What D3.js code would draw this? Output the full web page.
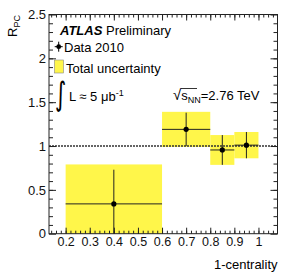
<!DOCTYPE html>
<html>
<head>
<meta charset="utf-8">
<script src="https://cdn.jsdelivr.net/npm/d3@7"></script>
<style>
  body { margin: 0; background: #fff; }
  svg { font-family: "Liberation Sans", Arial, sans-serif; }
</style>
</head>
<body>
<svg id="chart" width="299" height="274"></svg>
<script>
// --- DATA ---
const binLo = [0.2, 0.6, 0.8, 0.9];
const binHi = [0.6, 0.8, 0.9, 1.0];
const centre = [0.4, 0.7, 0.85, 0.95];
const rpc = [0.34, 1.19, 0.955, 1.01];
const statErr = [0.39, 0.19, 0.17, 0.15];
const totalErr = [0.45, 0.20, 0.17, 0.15];

const xTicks = [0.2, 0.3, 0.4, 0.5, 0.6, 0.7, 0.8, 0.9, 1];
const xTickLabels = ["0.2", "0.3", "0.4", "0.5", "0.6", "0.7", "0.8", "0.9", "1"];
const yTicks = [0, 0.5, 1, 1.5, 2, 2.5];
const yTickLabels = ["0", "0.5", "1", "1.5", "2", "2.5"];

const points = centre.map((c, i) => ({
    lo: binLo[i], hi: binHi[i], x: c, y: rpc[i], stat: statErr[i], tot: totalErr[i]
}));

// --- SETUP ---
const pLeft = 49, pRight = 277.5, pTop = 14.5, pBottom = 233.7;
const svg = d3.select("#chart");

const x = d3.scaleLinear().domain([0.131, 1.079]).range([pLeft, pRight]);
const y = d3.scaleLinear().domain([0, 2.5]).range([pBottom, pTop]);

svg.append("clipPath").attr("id", "plotclip")
    .append("rect")
    .attr("x", pLeft).attr("y", pTop)
    .attr("width", pRight - pLeft).attr("height", pBottom - pTop);

const plot = svg.append("g").attr("clip-path", "url(#plotclip)");

// total uncertainty boxes
plot.selectAll(".box")
    .data(points)
    .enter().append("rect")
    .attr("class", "box")
    .attr("x", d => x(d.lo))
    .attr("width", d => x(d.hi) - x(d.lo))
    .attr("y", d => y(d.y + d.tot))
    .attr("height", d => y(Math.max(0, d.y - d.tot)) - y(d.y + d.tot))
    .attr("fill", "#fff64a");

// reference line at 1
plot.append("line")
    .attr("x1", pLeft).attr("x2", pRight)
    .attr("y1", y(1)).attr("y2", y(1))
    .attr("stroke", "#333")
    .attr("stroke-width", 1.3)
    .attr("stroke-dasharray", "2,1");

// error bars
plot.selectAll(".xerr")
    .data(points)
    .enter().append("line")
    .attr("x1", d => x(d.lo)).attr("x2", d => x(d.hi))
    .attr("y1", d => y(d.y)).attr("y2", d => y(d.y))
    .attr("stroke", "#222").attr("stroke-width", 1);

plot.selectAll(".yerr")
    .data(points)
    .enter().append("line")
    .attr("x1", d => x(d.x)).attr("x2", d => x(d.x))
    .attr("y1", d => y(d.y + d.stat)).attr("y2", d => y(d.y - d.stat))
    .attr("stroke", "#222").attr("stroke-width", 1);

plot.selectAll(".dot")
    .data(points)
    .enter().append("circle")
    .attr("cx", d => x(d.x))
    .attr("cy", d => y(d.y))
    .attr("r", 2.6)
    .attr("fill", "#000");

// --- AXES ---
const xMinor = d3.range(0.14, 1.07, 0.02).map(v => +v.toFixed(2));
const yMinor = d3.range(0.1, 2.5, 0.1).map(v => +v.toFixed(1));

function styleAxis(g) {
    g.select(".domain").remove();
    g.selectAll("line").attr("stroke", "#222");
}

svg.append("g").attr("transform", `translate(0,${pBottom})`)
    .call(d3.axisBottom(x).tickValues(xMinor).tickSize(-3).tickFormat(""))
    .call(styleAxis);
svg.append("g").attr("transform", `translate(0,${pTop})`)
    .call(d3.axisTop(x).tickValues(xMinor).tickSize(-3).tickFormat(""))
    .call(styleAxis);
svg.append("g").attr("transform", `translate(0,${pBottom})`)
    .call(d3.axisBottom(x).tickValues(xTicks).tickSize(-6)
        .tickPadding(0).tickFormat((d, i) => xTickLabels[i]))
    .call(styleAxis)
    .call(g => g.selectAll("text")
        .attr("y", 12.5).attr("dy", null)
        .attr("font-size", 12.5).attr("fill", "#111"));
svg.append("g").attr("transform", `translate(0,${pTop})`)
    .call(d3.axisTop(x).tickValues(xTicks).tickSize(-6).tickFormat(""))
    .call(styleAxis);

svg.append("g").attr("transform", `translate(${pLeft},0)`)
    .call(d3.axisLeft(y).tickValues(yMinor).tickSize(-4).tickFormat(""))
    .call(styleAxis);
svg.append("g").attr("transform", `translate(${pRight},0)`)
    .call(d3.axisRight(y).tickValues(yMinor).tickSize(-4).tickFormat(""))
    .call(styleAxis);
svg.append("g").attr("transform", `translate(${pLeft},0)`)
    .call(d3.axisLeft(y).tickValues(yTicks).tickSize(-7)
        .tickPadding(3).tickFormat((d, i) => yTickLabels[i]))
    .call(styleAxis)
    .call(g => g.selectAll("text")
        .attr("font-size", 13).attr("fill", "#111"));
svg.append("g").attr("transform", `translate(${pRight},0)`)
    .call(d3.axisRight(y).tickValues(yTicks).tickSize(-7).tickFormat(""))
    .call(styleAxis);

// frame
svg.append("rect")
    .attr("x", pLeft).attr("y", pTop)
    .attr("width", pRight - pLeft).attr("height", pBottom - pTop)
    .attr("fill", "none").attr("stroke", "#222").attr("stroke-width", 1);

// axis titles
svg.append("text")
    .attr("x", pRight).attr("y", 268.5)
    .attr("text-anchor", "end")
    .attr("font-size", 13)
    .text("1-centrality");

const yTitle = svg.append("text")
    .attr("transform", "translate(17,15) rotate(-90)")
    .attr("text-anchor", "end")
    .attr("font-size", 13);
yTitle.append("tspan").text("R");
yTitle.append("tspan").attr("font-size", 9).attr("dy", 3).text("PC");

// --- LEGEND ---
const atlas = svg.append("text").attr("x", 60).attr("y", 35).attr("font-size", 13);
atlas.append("tspan").attr("font-weight", "bold").attr("font-style", "italic").text("ATLAS");
atlas.append("tspan").text(" Preliminary");

const mk = { x: 58.7, y: 46.7 };
svg.append("line").attr("x1", mk.x - 4).attr("x2", mk.x + 4)
    .attr("y1", mk.y).attr("y2", mk.y).attr("stroke", "#000");
svg.append("line").attr("x1", mk.x).attr("x2", mk.x)
    .attr("y1", mk.y - 5).attr("y2", mk.y + 5).attr("stroke", "#000");
svg.append("circle").attr("cx", mk.x).attr("cy", mk.y).attr("r", 2.4).attr("fill", "#000");
svg.append("text").attr("x", 64).attr("y", 51.5).attr("font-size", 13).text("Data 2010");

svg.append("rect").attr("x", 54.5).attr("y", 60).attr("width", 9).attr("height", 13)
    .attr("fill", "#fff64a").attr("stroke", "#888").attr("stroke-width", 0.6);
svg.append("text").attr("x", 66).attr("y", 73).attr("font-size", 13).text("Total uncertainty");

svg.append("text").attr("transform", "translate(55,104.5) scale(0.9,1.35)")
    .attr("font-family", "DejaVu Sans").attr("font-size", 24).text("∫");
const lumi = svg.append("text").attr("x", 69).attr("y", 100.5).attr("font-size", 13);
lumi.append("tspan").text("L ≈ 5 μb");
lumi.append("tspan").attr("font-size", 9).attr("dy", -5).text("-1");

// energy label
const en = svg.append("text").attr("x", 173).attr("y", 99.5).attr("font-size", 13);
en.append("tspan").attr("font-size", 15).text("√");
en.append("tspan").text("s");
en.append("tspan").attr("font-size", 9).attr("dy", 3).text("NN");
en.append("tspan").attr("dy", -3).text("=2.76 TeV");
svg.append("line").attr("x1", 181).attr("x2", 197)
    .attr("y1", 88.5).attr("y2", 88.5).attr("stroke", "#000").attr("stroke-width", 0.8);
</script>
</body>
</html>
